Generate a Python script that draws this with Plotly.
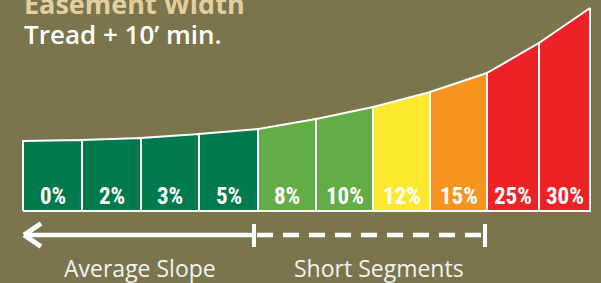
import plotly.graph_objects as go

# ---- data ----
slope_labels = ["0%", "2%", "3%", "5%", "8%", "10%", "12%", "15%", "25%", "30%"]
# bar boundaries along the slope axis (chart units)
bar_edges = [23, 82, 141, 199, 258, 316, 373, 430, 487, 539, 590]
# easement width (height of the curve) at each boundary
edge_heights = [70, 71, 73, 77, 82, 92, 104, 119, 138, 168, 203]
bar_colors = ["#00794c", "#00794c", "#00794c", "#00794c",
              "#62ad46", "#62ad46", "#fbe930", "#f7941e", "#ec2227", "#ec2227"]
title_top = "Easement Width"
title_sub = "Tread + 10\u2019 min."
range_labels = ["Average Slope", "Short Segments"]

BG = "#7a754c"
W, H = 601, 283
BASE = 211  # pixel row of the bar baseline


def py(p):
    """pixel row -> data y"""
    return BASE - p


fig = go.Figure()

for i, lab in enumerate(slope_labels):
    x0, x1 = bar_edges[i], bar_edges[i + 1]
    h0, h1 = edge_heights[i], edge_heights[i + 1]
    fig.add_trace(go.Scatter(
        x=[x0, x0, x1, x1, x0], y=[0, h0, h1, 0, 0],
        mode="lines", fill="toself", fillcolor=bar_colors[i],
        line=dict(color="white", width=2), hoverinfo="skip", showlegend=False))
    fig.add_annotation(
        x=(x0 + x1) / 2, y=py(196), text=lab, showarrow=False,
        xanchor="center", yanchor="middle",
        font=dict(family="Roboto Condensed, DejaVu Sans Condensed, sans-serif",
                  size=23, color="white", weight="bold"))

# titles
fig.add_annotation(x=22, y=py(3), text=title_top, showarrow=False,
                   xanchor="left", yanchor="middle",
                   font=dict(family="Open Sans", size=27, color="#e2cf9f", weight=700))
fig.add_annotation(x=22, y=py(34), text=title_sub, showarrow=False,
                   xanchor="left", yanchor="middle",
                   font=dict(family="Open Sans", size=26, color="white", weight=600))

# range arrows
ay = py(235)
split_x = bar_edges[4] - 4
end_x = bar_edges[8] - 2
shapes = [
    dict(type="line", x0=25, x1=split_x, y0=ay, y1=ay, line=dict(color="white", width=4.5)),
    dict(type="line", x0=24, x1=41, y0=ay, y1=py(223.5), line=dict(color="white", width=5)),
    dict(type="line", x0=24, x1=41, y0=ay, y1=py(246.5), line=dict(color="white", width=5)),
    dict(type="line", x0=split_x, x1=split_x, y0=py(224), y1=py(247), line=dict(color="white", width=4)),
    dict(type="line", x0=split_x + 3, x1=end_x, y0=ay, y1=ay,
         line=dict(color="white", width=4.5, dash="16px,10px")),
    dict(type="line", x0=end_x, x1=end_x, y0=py(224), y1=py(247), line=dict(color="white", width=4)),
]
for s in shapes:
    s.update(xref="x", yref="y", layer="above")
fig.update_layout(shapes=shapes)

fig.add_annotation(x=140, y=py(268), text=range_labels[0], showarrow=False,
                   xanchor="center", yanchor="middle",
                   font=dict(family="Open Sans", size=23, color="#f2f2f2"))
fig.add_annotation(x=379, y=py(268), text=range_labels[1], showarrow=False,
                   xanchor="center", yanchor="middle",
                   font=dict(family="Open Sans", size=23, color="#f2f2f2"))

fig.update_layout(
    width=W, height=H, margin=dict(l=0, r=0, t=0, b=0),
    paper_bgcolor=BG, plot_bgcolor=BG,
    xaxis=dict(range=[0, W], visible=False, fixedrange=True),
    yaxis=dict(range=[BASE - H, BASE], visible=False, fixedrange=True),
    showlegend=False,
)

fig.write_html("out.html", config={"displayModeBar": False},
               post_script="document.body.style.margin='0';document.body.style.overflow='hidden';")
